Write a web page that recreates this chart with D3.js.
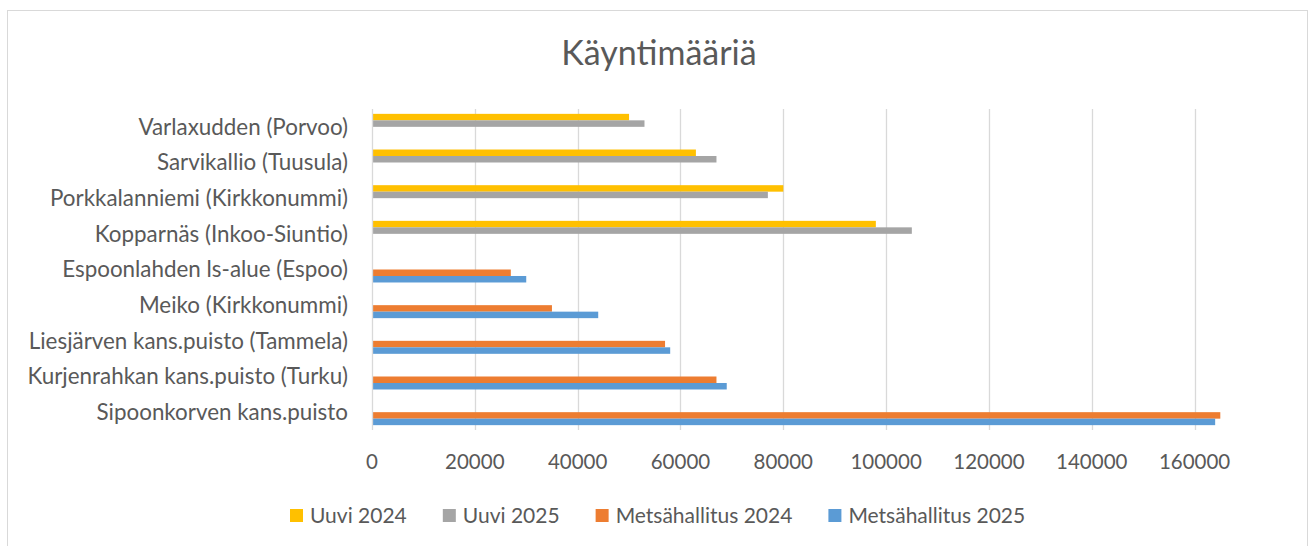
<!DOCTYPE html>
<html><head><meta charset="utf-8">
<script src="https://cdn.jsdelivr.net/npm/d3@7"></script>
<style>
body{margin:0;background:#fff}
svg{display:block}
text{font-family:Lato, "Open Sans", sans-serif;fill:#595959}
</style>
</head><body>
<svg id="c" width="1312" height="546"></svg>
<script>
const title = "Käyntimääriä";
const categories = [
  "Varlaxudden (Porvoo)",
  "Sarvikallio (Tuusula)",
  "Porkkalanniemi (Kirkkonummi)",
  "Kopparnäs (Inkoo-Siuntio)",
  "Espoonlahden ls-alue (Espoo)",
  "Meiko (Kirkkonummi)",
  "Liesjärven kans.puisto (Tammela)",
  "Kurjenrahkan kans.puisto (Turku)",
  "Sipoonkorven kans.puisto"
];
const seriesNames = ["Uuvi 2024", "Uuvi 2025", "Metsähallitus 2024", "Metsähallitus 2025"];
const uuvi2024 = [50000, 63000, 80000, 98000, 0, 0, 0, 0, 0];
const uuvi2025 = [53000, 67000, 77000, 105000, 0, 0, 0, 0, 0];
const metsahallitus2024 = [0, 0, 0, 0, 27000, 35000, 57000, 67000, 165000];
const metsahallitus2025 = [0, 0, 0, 0, 30000, 44000, 58000, 69000, 164000];
const tickValues = [0, 20000, 40000, 60000, 80000, 100000, 120000, 140000, 160000];
const colors = ["#FFC000", "#A5A5A5", "#ED7D31", "#5B9BD5"];

const seriesValues = [uuvi2024, uuvi2025, metsahallitus2024, metsahallitus2025];

const svg = d3.select("#c");

// chart border
svg.append("rect").attr("x", 7.5).attr("y", 10.5).attr("width", 1300).attr("height", 560)
  .attr("fill", "#fff").attr("stroke", "#d9d9d9").attr("stroke-width", 1);

const x0 = 372, plotTop = 109, plotBottom = 430;
const x = d3.scaleLinear().domain([0, 160000]).range([x0, 1194.6]);
const y = d3.scaleBand().domain(categories).range([plotTop, plotBottom])
  .paddingInner(0.272).paddingOuter(0.136);
const yInner = d3.scaleBand().domain(seriesNames).range([0, y.bandwidth()]);

// gridlines
svg.append("g").selectAll("line").data(tickValues.slice(1)).join("line")
  .attr("x1", d => Math.round(x(d)) + 0.5).attr("x2", d => Math.round(x(d)) + 0.5)
  .attr("y1", plotTop).attr("y2", plotBottom)
  .attr("stroke", "#d9d9d9").attr("stroke-width", 1.3);

// bars
const flat = [];
categories.forEach((c, i) => {
  seriesNames.forEach((s, j) => {
    const v = seriesValues[j][i];
    if (v > 0) flat.push({c, s, v, j});
  });
});
svg.append("g").selectAll("rect").data(flat).join("rect")
  .attr("x", x(0))
  .attr("y", d => y(d.c) + yInner(d.s))
  .attr("width", d => x(d.v) - x(0))
  .attr("height", yInner.bandwidth())
  .attr("fill", d => colors[d.j]);

// vertical axis line
svg.append("line").attr("x1", x0 + 0.5).attr("x2", x0 + 0.5)
  .attr("y1", plotTop).attr("y2", plotBottom)
  .attr("stroke", "#d9d9d9").attr("stroke-width", 1.3);

// y labels
svg.append("g").selectAll("text").data(categories).join("text")
  .attr("x", 348).attr("y", d => y(d) + y.bandwidth() / 2)
  .attr("dy", "0.35em").attr("text-anchor", "end")
  .style("font-size", "22.4px").text(d => d);

// x tick labels
svg.append("g").selectAll("text").data(tickValues).join("text")
  .attr("x", d => x(d)).attr("y", 469).attr("text-anchor", "middle")
  .style("font-size", "20.5px").text(d => d);

// title
svg.append("text").attr("x", 659).attr("y", 65).attr("text-anchor", "middle")
  .style("font-size", "34px").text(title);

// legend
const lg = svg.append("g");
let cx = 290;
seriesNames.forEach((s, j) => {
  lg.append("rect").attr("x", cx).attr("y", 509).attr("width", 13).attr("height", 13)
    .attr("fill", colors[j]);
  const t = lg.append("text").attr("x", cx + 20).attr("y", 515.5).attr("dy", "0.35em")
    .style("font-size", "21px").text(s);
  cx += 20 + t.node().getComputedTextLength() + 36;
});
</script>
</body></html>
